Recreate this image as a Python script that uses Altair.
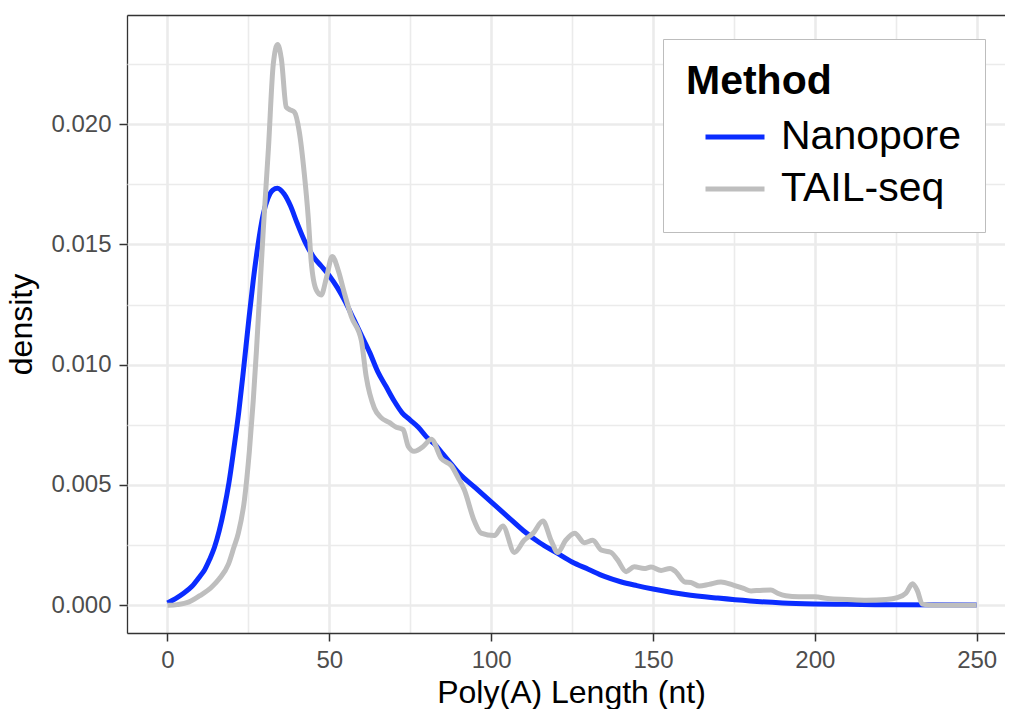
import altair as alt
import pandas as pd

# ---- data ----
nano_x = [0, 2.5, 5, 7.5, 10, 11.5, 13, 14.5, 16, 17.5, 19, 20.5, 22, 23.5, 25, 26.5,
          28, 29.5, 31, 32.5, 34, 36, 38, 40, 42.5, 45, 47.5, 50, 52.5, 55, 57.5, 60,
          62.5, 65, 67.5, 70, 72.5, 75, 77.5, 80, 82.5, 85, 87.5, 90, 95, 100, 105,
          110, 115, 120, 125, 130, 135, 140, 145, 150, 160, 170, 180, 190, 200, 210,
          225, 250]
nano_y = [0.0001, 0.00028, 0.0005, 0.00078, 0.0012, 0.00148, 0.0019, 0.0024, 0.0031,
          0.0040, 0.0051, 0.0065, 0.0080, 0.0098, 0.0117, 0.0135, 0.0150, 0.0162,
          0.0169, 0.01725, 0.01733, 0.0171, 0.0166, 0.0159, 0.0151, 0.0145, 0.0141,
          0.0137, 0.0132, 0.0126, 0.0119, 0.0112, 0.0105, 0.0097, 0.0091, 0.0085,
          0.0080, 0.0077, 0.0074, 0.0070, 0.0067, 0.0063, 0.0059, 0.0055, 0.0049,
          0.0043, 0.0037, 0.0031, 0.0026, 0.0022, 0.0018, 0.0015, 0.0012, 0.00098,
          0.00082, 0.00068, 0.00045, 0.0003, 0.00018, 0.0001, 0.00006, 0.00004,
          0.00002, 0.00001]

tail_x = [0, 3, 6.5, 10, 13.6, 16, 18.8, 20.5, 21.9, 23.8, 25.3, 26.5, 27.5, 28.3,
          29.6, 31.2, 32.7, 34, 35.2, 36.7, 37.7, 39.2, 40.7, 42.3, 43.5, 44.4, 46,
          47.5, 49.1, 50.9, 52.8, 54.6, 56.8, 59.9, 61.4, 63.9, 66, 68.5, 70.7, 72.8,
          74.4, 76.2, 79, 81.5, 84.6, 87.7, 89.8, 91.7, 94.8, 96.9, 101, 103.6, 107.2,
          110.2, 113, 116, 118.5, 120.6, 123, 125.8, 128.8, 131.4, 134, 137, 139,
          141.7, 144.2, 147.3, 149.4, 152.5, 155.3, 157, 159.8, 161.7, 164.3, 167.3,
          171, 174.6, 178, 180.3, 183, 186.4, 188.5, 191, 195, 200, 204, 210, 216,
          222, 225.5, 228.1, 230.2, 231.7, 233.2, 236.8, 250]
tail_y = [0.0, 0.00003, 0.00013, 0.0004, 0.00075, 0.0011, 0.0017, 0.0024, 0.0030,
          0.0044, 0.0064, 0.0085, 0.0106, 0.0125, 0.0156, 0.0190, 0.0225, 0.0233,
          0.0227, 0.0207, 0.0206, 0.0205, 0.0197, 0.0179, 0.0161, 0.0143, 0.0131,
          0.0129, 0.0136, 0.0145, 0.0139, 0.0130, 0.0120, 0.0110, 0.0095, 0.0082,
          0.0078, 0.0076, 0.0074, 0.0073, 0.0066, 0.0064, 0.0066, 0.0069, 0.0061,
          0.0058, 0.0053, 0.0048, 0.0035, 0.0030, 0.0029, 0.0033, 0.0022, 0.0027,
          0.0030, 0.0035, 0.0027, 0.0022, 0.0027, 0.0030, 0.0026, 0.0027, 0.0023,
          0.0022, 0.0019, 0.0014, 0.0016, 0.00153, 0.00159, 0.00145, 0.00153,
          0.0014, 0.00097, 0.00095, 0.0008, 0.00087, 0.00097, 0.00085, 0.0007,
          0.0006, 0.00062, 0.00064, 0.0005, 0.0004, 0.00036, 0.00036, 0.00028,
          0.00024, 0.00021, 0.00024, 0.00032, 0.0005, 0.0009, 0.0006, 0.00005,
          0.0, 0.0]

methods = ["Nanopore", "TAIL-seq"]
colors = ["#0a2cff", "#bebebe"]

x_min, x_max = -12.5, 258.75
x_major = [0, 50, 100, 150, 200, 250]
x_minor = [25, 75, 125, 175, 225]
y_ticks = [0.0, 0.0025, 0.005, 0.0075, 0.01, 0.0125, 0.015, 0.0175, 0.02, 0.0225]

df = pd.concat([
    pd.DataFrame({"len": nano_x, "density": nano_y, "Method": methods[0], "o": range(len(nano_x))}),
    pd.DataFrame({"len": tail_x, "density": tail_y, "Method": methods[1], "o": range(len(tail_x))}),
])

FONT = "Liberation Sans"
xscale = alt.Scale(domain=[x_min, x_max], nice=False, zero=False)
yscale = alt.Scale(domain=[-0.00115, 0.02453], nice=False, zero=False)

# y: majors at multiples of 0.005, minors in between
is_major_y = "abs(datum.value * 200 - round(datum.value * 200)) < 0.001"

yaxis = alt.Axis(orient="left", values=y_ticks, grid=True, domain=False,
                 labelExpr=f"({is_major_y}) ? format(datum.value, '.3f') : ''",
                 gridColor="#ebebeb",
                 gridWidth={"condition": {"test": is_major_y, "value": 2.6}, "value": 1.6},
                 tickOpacity={"condition": {"test": is_major_y, "value": 1}, "value": 0},
                 tickColor="#333333", tickWidth=1.5, tickSize=8,
                 labelFont=FONT, labelFontSize=24, labelColor="#4d4d4d",
                 labelPadding=8, titleFont=FONT, titleFontSize=32,
                 titleFontWeight="normal", titleColor="black", titlePadding=12)

base = alt.Chart(df)

main = base.mark_line(strokeWidth=5, clip=True, interpolate="monotone").encode(
    x=alt.X("len:Q", scale=xscale, title="Poly(A) Length (nt)",
            axis=alt.Axis(orient="bottom", values=x_major, format="d", grid=True,
                          gridColor="#ebebeb", gridWidth=2.6, domainColor="#333333",
                          domainWidth=1.3, tickColor="#333333", tickWidth=1.5, tickSize=8,
                          labelFont=FONT, labelFontSize=24, labelColor="#4d4d4d",
                          labelPadding=7, titleFont=FONT, titleFontSize=32,
                          titleFontWeight="normal", titleColor="black", titlePadding=5,
                          titleX=444)),
    y=alt.Y("density:Q", scale=yscale, title="density", axis=yaxis),
    color=alt.Color("Method:N", scale=alt.Scale(domain=methods, range=colors),
                    legend=alt.Legend(title="Method", orient="none", legendX=536, legendY=24,
                                      padding=23, strokeColor="#bdbdbd",
                                      fillColor="white", titleFont=FONT, titleFontSize=41,
                                      titleFontWeight="bold", titleColor="black",
                                      titlePadding=2, labelFont=FONT, labelFontSize=41,
                                      labelColor="black", labelLimit=400, symbolType="stroke",
                                      symbolSize=3481, symbolStrokeWidth=5,
                                      symbolOffset=17, labelOffset=14, rowPadding=0)),
    order="o:Q",
)

# top border, left border (grid line at the scale minimum) + minor vertical grid lines
is_edge = "datum.value < 0"
minor = base.mark_line(strokeOpacity=0, clip=True).encode(
    x=alt.X("len:Q", scale=xscale, title=None,
            axis=alt.Axis(orient="top", values=[x_min] + x_minor, grid=True,
                          gridColor={"condition": {"test": is_edge, "value": "#333333"},
                                     "value": "#ebebeb"},
                          gridWidth={"condition": {"test": is_edge, "value": 1.3},
                                     "value": 1.6},
                          labels=False, ticks=False, domain=True,
                          domainColor="#333333", domainWidth=1.3)),
    y=alt.Y("density:Q", scale=yscale, title="density", axis=yaxis),
    detail="Method:N",
    order="o:Q",
)

chart = alt.layer(minor, main).resolve_axis(x="independent").properties(
    width=878, height=618,
    padding={"left": 119, "top": 7, "right": 0, "bottom": 76},
    autosize=alt.AutoSizeParams(type="none"),
).configure_view(stroke="transparent", strokeWidth=0).configure_legend(
    strokeWidth=3).configure(background="white")

chart.save("out.html", embed_options={"renderer": "svg", "actions": False})
